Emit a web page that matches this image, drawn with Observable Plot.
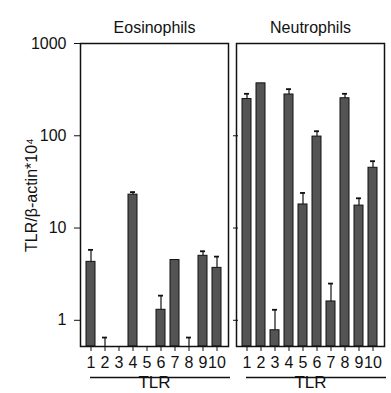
<!DOCTYPE html>
<html>
<head>
<meta charset="utf-8">
<script src="https://cdn.jsdelivr.net/npm/d3@7"></script>
<script src="https://cdn.jsdelivr.net/npm/@observablehq/plot@0.6"></script>
<style>
  html, body { margin: 0; padding: 0; background: #fff; }
  svg { display: block; }
</style>
</head>
<body>
<div id="chart"></div>
<script>
// ---- data ----
const cells = ["Eosinophils", "Neutrophils"];
const tlrs = [1, 2, 3, 4, 5, 6, 7, 8, 9, 10];
// null = not detected (no bar)
const eosValues = [4.3, null, null, 23, null, 1.3, 4.5, null, 5.0, 3.7];
const eosErrTop = [5.8, 0.65, null, 24.5, null, 1.85, null, 0.65, 5.6, 4.9];
const neuValues = [250, 370, 0.78, 280, 18, 98, 1.6, 255, 17.5, 45];
const neuErrTop = [285, null, 1.3, 320, 24, 112, 2.5, 285, 21, 53];
const yTicks = [1, 10, 100, 1000];
const yMin = 0.52;
const yMax = 1000;

const rows = [];
cells.forEach((cell, ci) => {
  const vals = ci === 0 ? eosValues : neuValues;
  const errs = ci === 0 ? eosErrTop : neuErrTop;
  tlrs.forEach((t, i) => rows.push({cell, tlr: t, value: vals[i], err: errs[i]}));
});
const barRows = rows.filter(d => d.value != null);
const errRows = rows.filter(d => d.err != null);

const font = "Liberation Sans, Arial, Helvetica, sans-serif";

const chart = Plot.plot({
  width: 391,
  height: 393,
  marginLeft: 79,
  marginRight: 6,
  marginTop: 43,
  marginBottom: 47,
  style: {fontFamily: font, fontSize: "14px", color: "#111", background: "#fff"},
  fx: {domain: cells, padding: 0.05, label: null},
  x: {domain: tlrs, padding: 0.33, label: null},
  y: {type: "log", domain: [yMin, yMax], label: null},
  marks: [
    Plot.barY(barRows, {
      fx: "cell", x: "tlr", y1: () => yMin, y2: "value",
      fill: "#545454", stroke: "#111", strokeWidth: 1
    }),
    Plot.ruleX(errRows, {
      fx: "cell", x: "tlr", y1: d => d.value ?? yMin, y2: "err",
      stroke: "#111", strokeWidth: 1.2
    }),
    Plot.tickY(errRows, {
      fx: "cell", x: "tlr", y: "err",
      stroke: "#111", strokeWidth: 1.8, insetLeft: 2, insetRight: 2
    }),
    Plot.frame({stroke: "#111", strokeWidth: 1.5}),
    Plot.axisY({
      ticks: yTicks, tickFormat: d3.format("d"), tickSize: 6, tickPadding: 8,
      fontSize: 16, label: "TLR/β-actin*10⁴", labelAnchor: "center", labelOffset: 55,
      labelArrow: "none"
    }),
    Plot.axisY({
      facetAnchor: "right", anchor: "left", ticks: yTicks.slice(0, 3),
      tickSize: 5, dx: 2, tickFormat: () => "", label: null
    }),
    Plot.axisX({
      tickSize: 5, tickPadding: 5, fontSize: 16, label: null
    }),
    Plot.axisFx({anchor: "top", tickSize: 0, tickPadding: 11, fontSize: 16, label: null}),
    Plot.ruleY(cells, {
      fx: d => d, y: () => yMin, dy: 31,
      stroke: "#111", strokeWidth: 1.6, insetLeft: 10, insetRight: -2
    }),
    Plot.text(cells, {
      fx: d => d, frameAnchor: "bottom", text: () => "TLR",
      dy: 41, fontSize: 17, fill: "#111"
    })
  ]
});

document.getElementById("chart").appendChild(chart);
</script>
</body>
</html>
